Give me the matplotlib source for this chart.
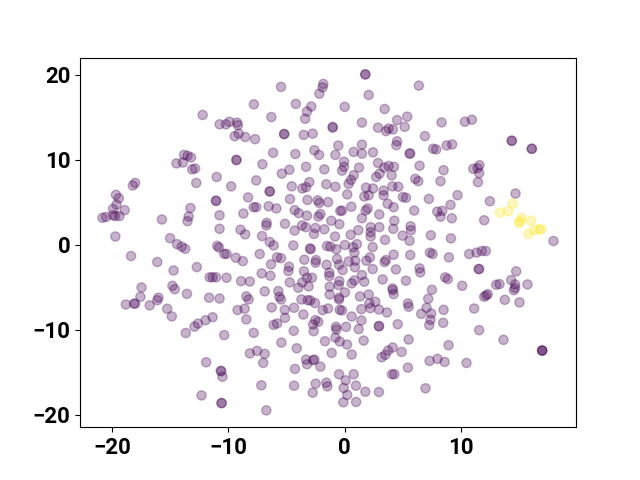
from matplotlib import pyplot as plt
import numpy as np

# points, (x, y) in data units
upper_left = [
    (-12.2,15.3),(-10.74,14.2),(-10.2,14.2),(-9.9,14.5),(-9.25,14.4),(-9.17,14.1),(-9.1,13.1),(-9.45,12.8),
    (-8.54,12.7),(-7.8,16.55),(-9.3,10.0),(-9.3,10.0),(-13.8,10.6),(-13.5,10.5),(-13.2,10.3),(-13.9,9.7),(-14.45,9.6),
    (-13.1,8.9),(-12.85,9.0),(-12.75,7.3),(-11.0,8.0),(-9.75,6.9),(-8.3,5.6),(-18.0,7.3),(-18.2,7.0),
    (-19.65,5.9),(-19.4,5.5),(-19.6,4.75),(-19.9,4.25),(-18.9,4.1),(-20.8,3.2),(-20.5,3.3),(-19.9,3.5),
    (-19.7,3.4),(-19.35,3.4),(-19.7,1.0),(-15.7,3.0),(-13.25,4.35),(-13.4,3.35),(-13.5,2.8),(-11.05,5.2),(-11.05,5.2),
    (-10.75,3.5),(-8.7,3.7),(-10.75,1.9),(-8.95,1.8),(-8.55,1.25),(-15.0,0.8),
]
lower_left = [
    (-14.4,0.1),(-14.0,-0.2),(-13.7,-0.45),(-10.95,-0.1),(-10.8,-0.3),(-10.35,-1.05),(-10.15,-1.05),(-9.35,-1.5),
    (-8.75,-1.9),(-18.35,-1.3),(-16.1,-2.0),(-14.7,-3.0),(-12.7,-2.6),(-11.6,-3.8),(-11.35,-3.8),(-11.05,-3.8),
    (-10.15,-3.85),(-8.9,-4.25),(-8.15,-4.3),(-17.45,-5.0),(-14.8,-4.8),(-14.6,-5.2),(-13.55,-5.75),(-17.55,-6.1),
    (-16.0,-6.2),(-16.1,-6.5),(-18.8,-7.0),(-18.1,-6.9),(-18.0,-6.9),(-16.75,-7.1),(-11.65,-6.2),(-10.75,-6.3),
    (-8.45,-6.05),(-8.25,-6.4),(-15.25,-7.5),(-14.85,-8.4),(-9.2,-7.65),(-8.6,-7.5),(-8.45,-8.75),(-11.35,-8.5),
    (-11.95,-8.85),(-12.6,-9.25),(-12.9,-9.6),(-13.65,-10.35),(-10.35,-10.6),(-8.15,-12.75),(-11.9,-13.8),
    (-10.65,-14.8),(-10.6,-14.85),(-10.5,-15.5),(-12.3,-17.7),(-10.6,-18.6),(-10.55,-18.6),
]
upper_mid = [
    (1.77,20.07),(1.77,20.07),(-5.47,18.6),(-1.84,18.95),(-1.9,18.55),(-2.18,17.8),(2.06,17.65),(-4.2,16.6),(-2.87,16.3),
    (-3.24,15.7),(-3.4,14.85),(-0.0,16.25),(3.43,16.0),(-6.3,15.05),(4.5,14.7),(5.37,15.1),(1.48,14.4),
    (-1.03,13.9),(-1.03,13.8),(-5.2,13.05),(-5.2,13.05),(-3.52,12.95),(-2.75,13.1),(2.86,13.8),(3.55,13.4),(3.77,13.7),
    (4.14,13.6),(5.15,13.9),(-7.7,12.45),(1.48,11.8),(-0.55,11.7),(4.5,12.2),(4.43,11.75),(-2.6,11.15),
    (-2.2,10.6),(-6.15,10.85),(-4.24,10.7),(-0.8,10.6),(0.77,10.95),(1.48,10.75),(2.43,10.9),(5.57,10.75),
    (-0.06,9.8),(-0.06,9.2),(-0.23,8.75),(-7.07,9.5),(-3.32,9.2),(-1.75,8.9),(1.23,9.1),(2.86,9.65),(3.4,9.1),
    (3.77,9.3),(4.23,9.2),(-5.4,8.4),(-4.75,8.85),(3.0,8.4),(2.7,8.0),(4.03,8.2),(0.77,8.2),(0.54,7.65),
    (0.34,7.2),(-7.6,7.6),(-3.04,7.4),(-4.55,6.9),(-3.64,6.65),(-3.32,6.8),(-1.58,7.15),(-0.8,6.85),(1.83,6.75),
    (2.43,6.65),(4.1,6.9),(4.6,6.85),(-6.44,6.3),(-6.44,6.3),(0.22,5.95),(3.34,6.4),(3.34,5.85),(1.68,5.7),(2.06,5.85),
    (5.0,5.65),(5.26,5.55),(-4.7,5.4),(-3.2,5.3),(-2.32,5.25),(-2.18,4.95),(-1.43,5.05),(-7.82,4.45),
    (-7.6,4.45),(-6.53,4.55),(-5.87,4.3),(0.57,4.5),(3.69,4.85),(4.2,4.45),(-4.3,4.1),(-3.95,3.75),(-3.24,3.45),
    (-0.38,4.0),(-0.23,4.05),(1.97,4.3),(1.8,4.05),(2.97,3.6),(-2.09,3.65),(-2.26,3.35),(1.48,3.15),(-1.15,2.85),
    (-0.46,2.45),(4.26,2.85),(-6.7,2.6),(-6.73,2.3),(-5.13,2.5),(-3.67,2.3),(-3.35,2.1),(-2.52,2.0),(-2.64,1.3),
    (-1.75,1.85),(-4.3,1.7),(2.23,2.1),(2.23,1.5),(2.23,1.0),(2.97,2.1),(4.17,1.9),(1.17,1.75),(0.51,1.2),
    (-0.83,1.0),(3.46,0.6),(4.97,1.1),(5.57,0.5),(-7.1,1.05),(-6.44,0.35),(-6.1,-0.05),(-4.41,-0.05),
]
lower_mid = [
    (-2.98,-0.4),(-2.92,-0.5),(-1.52,-0.12),(-1.23,-0.2),(-0.72,-0.5),(0.02,0.0),(1.05,0.1),(0.71,-0.27),
    (0.83,-0.9),(2.4,-0.25),(-7.3,-1.06),(-5.81,-1.45),(-5.47,-1.55),(-6.33,-2.28),(-3.47,-1.73),(-2.47,-1.77),
    (-2.5,-2.08),(-4.78,-2.55),(-4.84,-3.07),(-1.55,-2.32),(-0.66,-1.65),(-0.49,-2.32),(-0.18,-2.95),(0.34,-1.93),
    (0.91,-1.85),(0.88,-2.63),(1.86,-1.85),(2.17,-1.45),(3.43,-2.0),(3.54,-1.77),(4.2,-1.14),(2.4,-2.83),(4.4,-2.87),
    (-7.13,-3.34),(-6.38,-3.62),(-3.5,-3.1),(-3.24,-3.85),(-2.81,-3.85),(-3.64,-4.4),(-4.72,-4.4),(-3.98,-5.03),
    (-3.1,-4.87),(-1.32,-3.26),(-1.32,-3.66),(-0.46,-4.24),(-0.52,-4.72),(-1.29,-4.91),(-1.29,-5.82),(0.02,-5.58),
    (1.48,-3.54),(0.83,-4.17),(0.6,-4.52),(1.68,-4.32),(3.26,-4.05),(5.26,-4.2),(4.1,-5.11),(4.14,-5.31),(4.2,-5.78),
    (2.06,-5.82),(1.31,-6.05),(-5.7,-5.42),(-6.87,-5.46),(-5.61,-6.09),(-5.47,-6.41),(-3.72,-6.41),(-3.18,-6.49),
    (-2.95,-6.52),(-2.55,-6.84),(-0.49,-6.21),(-0.49,-6.41),(2.11,-6.88),(2.63,-6.68),(2.2,-7.43),(1.43,-7.55),
    (2.94,-7.59),(3.63,-7.94),(5.43,-6.88),(5.49,-7.27),(-7.82,-10.34),(-6.27,-7.35),(-5.15,-7.63),(-4.35,-7.39),
    (-5.13,-8.57),(-3.55,-8.18),(-1.89,-7.66),(-1.43,-7.47),(-0.43,-7.63),(-0.23,-7.7),(0.6,-8.41),(1.43,-8.88),
    (-6.1,-9.4),(-5.81,-9.24),(-2.52,-8.84),(-2.27,-9.04),(-2.72,-9.35),(-2.67,-10.14),(-4.38,-10.1),(-0.75,-9.63),
    (-0.72,-9.94),(0.11,-9.63),(1.2,-9.9),(2.94,-9.55),(2.94,-9.55),(4.55,-9.32),(-0.8,-10.89),(-0.43,-11.36),(-1.69,-11.32),
    (0.2,-11.71),(1.63,-11.24),(5.49,-11.12),(-5.44,-11.48),(-4.12,-12.15),(-1.12,-12.7),(0.6,-12.89),(-7.53,-12.46),
    (-6.87,-12.81),(-7.0,-13.87),(-3.32,-13.48),(-2.6,-13.48),(-2.72,-13.56),(-3.24,-14.03),(-2.09,-14.31),
    (-4.27,-14.58),(4.12,-12.07),(3.72,-12.42),(3.49,-12.93),(3.17,-13.21),(4.89,-12.58),(5.43,-14.43),(4.06,-15.21),
    (4.26,-15.21),(-0.49,-15.21),(0.77,-15.21),(0.08,-15.92),(-2.49,-16.31),(-1.58,-16.2),(-1.49,-16.63),
    (-0.09,-16.82),(0.97,-16.55),(-2.75,-17.37),(0.22,-17.65),(1.77,-17.26),(2.94,-17.3),(-0.12,-18.51),
    (0.98,-18.47),(-7.16,-16.51),(-4.35,-16.55),(-6.73,-19.46),
]
upper_right = [
    (6.37,18.75),(8.32,14.42),(10.32,14.5),(10.92,14.74),(6.89,12.81),(14.35,12.26),(14.35,12.26),
    (16.07,11.32),(16.07,11.32),(7.6,11.32),(7.86,11.24),(8.75,11.71),(9.23,11.83),(5.63,10.77),(6.43,9.32),(8.49,8.8),
    (11.04,8.96),(11.58,9.39),(11.41,9.04),(11.55,8.45),(11.44,7.39),(6.06,7.78),(6.32,7.51),(8.23,7.51),
    (9.69,5.86),(7.23,5.42),(14.67,6.05),(12.47,5.15),(5.97,4.05),(9.09,4.72),(7.95,3.93),(8.38,4.01),
    (8.23,3.34),(9.2,3.14),(11.98,2.91),(5.66,2.2),(5.69,1.73),(7.4,1.14),(9.12,0.78),(17.93,0.47),
]
lower_right = [
    (5.63,-1.18),(7.32,-0.9),(7.55,-1.06),(8.95,-1.45),(10.69,-1.06),(11.32,-0.9),(11.78,-0.71),(12.12,-0.71),
    (6.43,-2.75),(6.49,-3.22),(11.5,-2.83),(11.55,-2.83),(8.63,-3.81),(8.86,-4.01),(10.09,-4.8),(14.73,-3.1),
    (14.3,-4.13),(13.01,-4.68),(13.3,-4.6),(14.64,-4.64),(14.64,-5.07),(14.53,-5.31),(15.7,-4.64),(7.49,-5.27),
    (11.98,-6.09),(12.15,-5.94),(12.29,-5.78),(13.75,-6.45),(15.01,-6.76),(7.17,-6.33),(7.03,-7.39),(8.49,-7.63),
    (11.12,-7.47),(6.57,-8.1),(7.43,-8.06),(7.37,-8.8),(7.26,-9.43),(8.46,-9.16),(11.55,-10.02),(8.92,-11.79),
    (13.64,-11.16),(16.96,-12.42),(16.96,-12.42),(16.96,-12.42),(7.29,-13.64),(7.97,-13.4),(8.58,-13.76),(10.46,-13.88),
    (6.94,-16.86),
]
# the small yellow group on the right
yellow_group = [
    (14.44,4.87),(14.04,3.97),(13.33,3.81),(15.18,3.18),(15.99,2.87),(15.07,2.79),(14.96,2.6),(16.27,1.77),
    (16.7,1.85),(16.9,1.85),(15.79,1.3),
]

purple = upper_left + lower_left + upper_mid + lower_mid + upper_right + lower_right
points = np.array(purple + yellow_group)
labels = np.array([0] * len(purple) + [1] * len(yellow_group))

plt.rcParams['font.family'] = ['Roboto', 'DejaVu Sans']
plt.rcParams['font.weight'] = 'bold'
plt.rcParams['font.size'] = 16

plt.figure(figsize=(6.4, 4.8), dpi=100)
plt.scatter(points[:, 0], points[:, 1], c=labels, s=44, alpha=0.3)
plt.xticks([-20, -10, 0, 10])
plt.yticks([-20, -10, 0, 10, 20])
plt.savefig("out.png", dpi=100)
